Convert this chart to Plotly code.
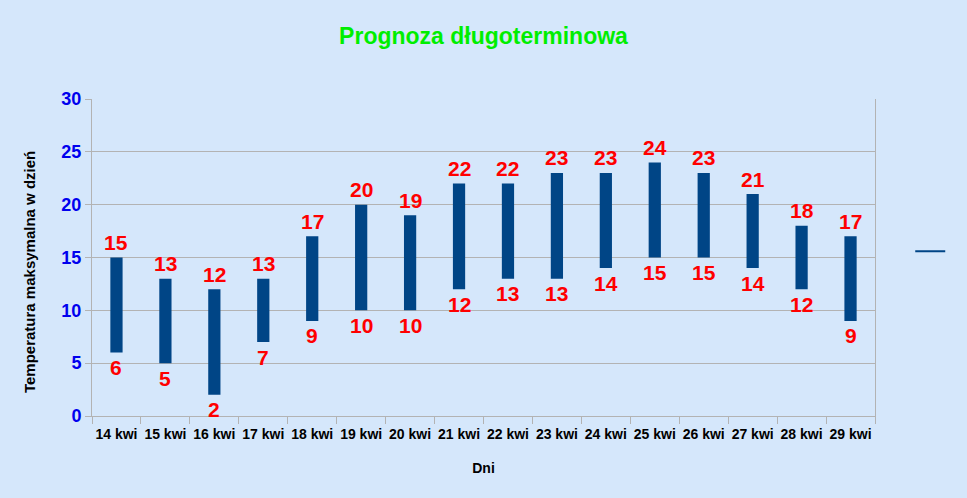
import plotly.graph_objects as go

days = ["14 kwi", "15 kwi", "16 kwi", "17 kwi", "18 kwi", "19 kwi", "20 kwi", "21 kwi",
        "22 kwi", "23 kwi", "24 kwi", "25 kwi", "26 kwi", "27 kwi", "28 kwi", "29 kwi"]
t_max = [15, 13, 12, 13, 17, 20, 19, 22, 22, 23, 23, 24, 23, 21, 18, 17]
t_min = [6, 5, 2, 7, 9, 10, 10, 12, 13, 13, 14, 15, 15, 14, 12, 9]

bar_color = "#004586"
label_font = dict(family="Liberation Sans, Arial", size=21, color="#ff0000")

fig = go.Figure()
fig.add_trace(go.Bar(
    x=days, y=[hi - lo for hi, lo in zip(t_max, t_min)], base=t_min,
    marker=dict(color=bar_color, line=dict(width=0)), width=0.25,
    showlegend=False, hoverinfo="skip"))
for d, v in zip(days, t_max):
    fig.add_annotation(x=d, y=v, text=f"<b>{v}</b>", showarrow=False,
                       yanchor="middle", yshift=15, font=label_font)
for d, v in zip(days, t_min):
    fig.add_annotation(x=d, y=v, text=f"<b>{v}</b>", showarrow=False,
                       yanchor="middle", yshift=-15, font=label_font)
fig.add_trace(go.Scatter(
    x=[None], y=[None], mode="lines", line=dict(color=bar_color, width=2),
    name=" ", showlegend=True))

# y-axis title as rotated annotation for precise placement
fig.add_annotation(xref="paper", yref="paper", x=-0.0805, y=0.454,
                   text="<b>Temperatura maksymalna w dzień</b>", textangle=-90,
                   showarrow=False, xanchor="center", yanchor="middle",
                   font=dict(size=15, color="#000000", family="Liberation Sans, Arial"))

bg = "#d5e7fb"
fig.update_layout(
    width=967, height=498,
    margin=dict(l=92, r=92, t=99, b=82, autoexpand=False),
    paper_bgcolor=bg, plot_bgcolor=bg,
    font=dict(family="Liberation Sans, Arial", color="#000000"),
    title=dict(text="<b>Prognoza długoterminowa</b>", x=0.5, xanchor="center",
               y=0.928, yanchor="middle",
               font=dict(size=23, color="#00ee00", family="Liberation Sans, Arial")),
    bargap=0.75,
    legend=dict(x=1.045, y=0.52, xanchor="left", yanchor="middle",
                bgcolor="rgba(0,0,0,0)", font=dict(size=10),
                itemwidth=30),
    xaxis=dict(
        type="category", tickson="boundaries", ticks="outside", ticklen=7,
        tickcolor="#b3b3b3", showline=True, linecolor="#b3b3b3", showgrid=False,
        tickangle=0, automargin=False, ticklabelstandoff=5,
        tickfont=dict(size=14, color="#000000", family="Liberation Sans, Arial"),
        tickprefix="<b>", ticksuffix="</b>",
        title=dict(text="<b>Dni</b>", font=dict(size=14), standoff=22)),
    yaxis=dict(
        range=[0, 30], dtick=5, showgrid=True, gridcolor="#b3b3b3",
        showline=True, linecolor="#b3b3b3", mirror=True, automargin=False,
        ticks="outside", ticklen=6, tickcolor="#b3b3b3", zeroline=False,
        tickfont=dict(size=18, color="#0000ee", family="Liberation Sans, Arial"),
        tickprefix="<b>", ticksuffix="</b>"),
)

fig.write_html("out.html",
               config={"displayModeBar": False},
               post_script="document.body.style.margin='0';"
                           "document.body.style.overflow='hidden';"
                           "document.body.style.background='#d5e7fb';")
